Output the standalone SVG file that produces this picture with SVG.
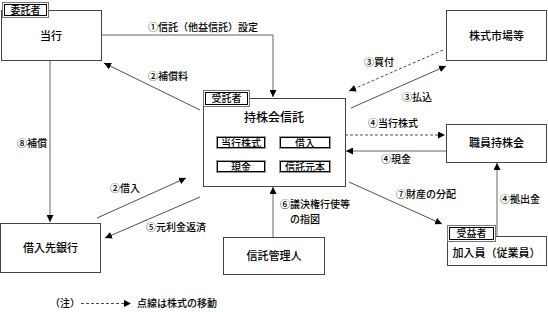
<svg xmlns="http://www.w3.org/2000/svg" width="548" height="312" viewBox="0 0 548 312">
<style>
text{font-family:"Noto Sans CJK JP","Liberation Sans",sans-serif;fill:#000;font-weight:500}
.n{font-size:11px;text-anchor:middle}
.l{font-size:10px}
.c{font-size:10px;text-anchor:middle}
.box{fill:#fff;stroke:#444;stroke-width:1}
.in{fill:none;stroke:#000;stroke-width:1}
.in2{fill:none;stroke:#999;stroke-width:1}
.ln{fill:none;stroke:#666;stroke-width:1}
.dg{fill:none;stroke:#222;stroke-width:0.8}
.ds{fill:none;stroke:#222;stroke-width:0.8;stroke-dasharray:3,2}
</style>
<defs>
<marker id="ah" viewBox="0 0 10 10" refX="10" refY="5" markerWidth="7" markerHeight="7" markerUnits="userSpaceOnUse" orient="auto">
<path d="M0,0 L10,5 L0,10 z" fill="#000"/>
</marker>
</defs>

<g id="connectors">
<polyline class="ln" points="101,35 273,35 273,97" marker-end="url(#ah)"/>
<line class="dg" x1="200" y1="110" x2="104" y2="63" marker-end="url(#ah)"/>
<line class="ln" x1="50" y1="60" x2="50" y2="222" marker-end="url(#ah)"/>
<line class="dg" x1="97" y1="218" x2="186" y2="178" marker-end="url(#ah)"/>
<line class="dg" x1="200" y1="197" x2="105" y2="238" marker-end="url(#ah)"/>
<line class="ds" x1="443" y1="50" x2="349" y2="91" marker-end="url(#ah)"/>
<line class="dg" x1="351" y1="108" x2="446" y2="66" marker-end="url(#ah)"/>
<line class="ds" x1="345" y1="135" x2="445" y2="135" marker-end="url(#ah)"/>
<line class="ln" x1="446" y1="151" x2="346" y2="151" marker-end="url(#ah)"/>
<line class="dg" x1="349" y1="182" x2="442" y2="224" marker-end="url(#ah)"/>
<line class="ln" x1="497" y1="236" x2="497" y2="163" marker-end="url(#ah)"/>
<line class="ln" x1="273" y1="237" x2="273" y2="187" marker-end="url(#ah)"/>
</g>

<g id="labels">
<text class="l" x="148" y="31">①信託（他益信託）設定</text>
<text class="l" x="148" y="80">②補償料</text>
<text class="l" x="17" y="147">⑧補償</text>
<text class="l" x="110" y="192">②借入</text>
<text class="l" x="146" y="231">⑤元利金返済</text>
<text class="l" x="364" y="66">③買付</text>
<text class="l" x="402" y="101">③払込</text>
<text class="l" x="368" y="127">④当行株式</text>
<text class="l" x="381" y="163">④現金</text>
<text class="l" x="396" y="198">⑦財産の分配</text>
<text class="l" x="500" y="203">④拠出金</text>
<text class="l" x="280" y="208">⑥議決権行使等</text>
<text class="l" x="290" y="223">の指図</text>
</g>

<g id="node-touko">
<rect class="box" x="1.5" y="10.5" width="100" height="50"/>
<rect x="2.5" y="2.5" width="46" height="15" fill="#fff" stroke="#777"/>
<rect class="in" x="4.5" y="4.5" width="42" height="11"/>
<text class="c" x="25.5" y="14">委託者</text>
<text class="n" x="51" y="40">当行</text>
</g>

<g id="node-market">
<rect class="box" x="446.5" y="10.5" width="100" height="50"/>
<text class="n" x="496.5" y="40">株式市場等</text>
</g>

<g id="node-trust">
<rect class="box" x="203.5" y="98.5" width="142" height="88"/>
<rect x="203.5" y="90.5" width="46" height="16" fill="#fff" stroke="#777"/>
<rect class="in" x="205.5" y="92.5" width="42" height="12"/>
<text class="c" x="226.5" y="102">受託者</text>
<text class="n" x="274" y="122" style="font-size:12px">持株会信託</text>
<g id="sub-stock">
<rect class="in2" x="216.5" y="136.5" width="49" height="12"/>
<rect class="in" x="217.5" y="137.5" width="47" height="10"/>
<text class="c" x="241" y="146.5">当行株式</text>
</g>
<g id="sub-loan">
<rect class="in2" x="279.5" y="136.5" width="51" height="12"/>
<rect class="in" x="280.5" y="137.5" width="49" height="10"/>
<text class="c" x="305" y="146.5">借入</text>
</g>
<g id="sub-cash">
<rect class="in2" x="216.5" y="160.5" width="49" height="12"/>
<rect class="in" x="217.5" y="161.5" width="47" height="10"/>
<text class="c" x="241" y="170.5">現金</text>
</g>
<g id="sub-principal">
<rect class="in2" x="279.5" y="160.5" width="51" height="12"/>
<rect class="in" x="280.5" y="161.5" width="49" height="10"/>
<text class="c" x="305" y="170.5">信託元本</text>
</g>
</g>

<g id="node-kumiai">
<rect class="box" x="446.5" y="124.5" width="100" height="38"/>
<text class="n" x="496.5" y="147">職員持株会</text>
</g>

<g id="node-bank">
<rect class="box" x="0.5" y="223.5" width="100" height="49"/>
<text class="n" x="50.5" y="252">借入先銀行</text>
</g>

<g id="node-kanri">
<rect class="box" x="223.5" y="237.5" width="101" height="37"/>
<text class="n" x="274" y="260">信託管理人</text>
</g>

<g id="node-member">
<rect class="box" x="447.5" y="236.5" width="99" height="29"/>
<rect x="447.5" y="225.5" width="48" height="16" fill="#fff" stroke="#777"/>
<rect class="in" x="449.5" y="227.5" width="44" height="12"/>
<text class="c" x="471.5" y="237">受益者</text>
<text class="n" x="496.5" y="257">加入員（従業員）</text>
</g>

<g id="legend">
<text class="l" x="50" y="307">（注）</text>
<line class="ds" x1="81" y1="303.5" x2="131" y2="303.5" marker-end="url(#ah)"/>
<text class="l" x="137" y="307">点線は株式の移動</text>
</g>
</svg>
